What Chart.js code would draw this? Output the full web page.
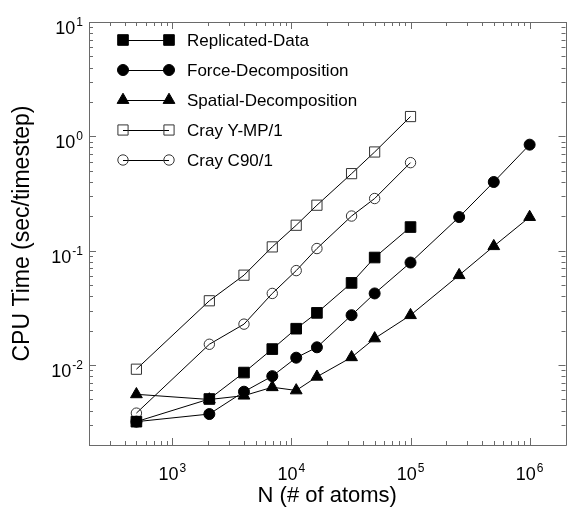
<!DOCTYPE html>
<html><head><meta charset="utf-8">
<script src="https://cdn.jsdelivr.net/npm/chart.js@4/dist/chart.umd.min.js"></script>
<style>html,body{margin:0;padding:0;background:#fff}canvas{display:block}</style>
</head><body>
<canvas id="c" width="574" height="512"></canvas>
<script>
// ---- data ----
const atoms = [500, 2048, 4000, 6912, 10976, 16384, 32000, 50000, 100000, 256000, 500000, 1000000];
const replicatedData = [0.0032, 0.00505, 0.0086, 0.0138, 0.0208, 0.0286, 0.0523, 0.0872, 0.161, null, null, null];
const forceDecomposition = [0.0032, 0.00373, 0.00585, 0.0080, 0.0116, 0.0143, 0.0273, 0.0423, 0.0788, 0.197, 0.399, 0.846];
const spatialDecomposition = [0.00555, 0.0050, 0.0054, 0.0064, 0.0060, 0.0079, 0.0117, 0.0171, 0.0273, 0.0611, 0.1095, 0.197];
const crayYMP = [0.0092, 0.0365, 0.0611, 0.108, 0.167, 0.25, 0.472, 0.73, 1.49, null, null, null];
const crayC90 = [0.0038, 0.0152, 0.0228, 0.0423, 0.067, 0.1045, 0.201, 0.286, 0.589, null, null, null];
const seriesNames = ['Replicated-Data', 'Force-Decomposition', 'Spatial-Decomposition', 'Cray Y-MP/1', 'Cray C90/1'];
const xTickExponents = [3, 4, 5, 6];
const yTickExponents = [-2, -1, 0, 1];
const xTitle = 'N (# of atoms)';
const yTitle = 'CPU Time (sec/timestep)';

const FONT = "'Liberation Sans', Arial, sans-serif";
const FRAME = '#6a6a6a';

function pts(vals) {
  return atoms.map((n, i) => ({x: n, y: vals[i]})).filter(p => p.y !== null);
}
function logTicks(min, max) {
  const out = [];
  for (let e = Math.floor(Math.log10(min)); e <= Math.ceil(Math.log10(max)); e++) {
    for (let m = 1; m <= 9; m++) {
      const v = m * Math.pow(10, e);
      if (v >= min * 0.9999 && v <= max * 1.0001) out.push({value: v});
    }
  }
  return out;
}
function isMajor(v) { const l = Math.log10(v); return Math.abs(l - Math.round(l)) < 1e-9; }

const styles = [
  {pointStyle: 'rect', radius: 7.5, fill: '#000'},
  {pointStyle: 'circle', radius: 5.5, fill: '#000'},
  {pointStyle: 'triangle', radius: 6.8, fill: '#000'},
  {pointStyle: 'rect', radius: 7.2, fill: 'rgba(0,0,0,0)'},
  {pointStyle: 'circle', radius: 5.2, fill: 'rgba(0,0,0,0)'}
];
const seriesValues = [replicatedData, forceDecomposition, spatialDecomposition, crayYMP, crayC90];

const datasets = seriesValues.map((vals, i) => ({
  label: seriesNames[i],
  data: pts(vals),
  borderColor: '#000',
  borderWidth: 1,
  pointStyle: styles[i].pointStyle,
  pointRadius: styles[i].radius,
  pointBackgroundColor: styles[i].fill,
  pointBorderColor: i >= 3 ? '#333' : '#000',
  pointBorderWidth: 1,
  fill: false,
  tension: 0
}));

function drawPow(ctx, e, x, y, align) {
  const base = '10', exp = String(e);
  ctx.font = '18px ' + FONT;
  const wb = ctx.measureText(base).width;
  ctx.font = '12px ' + FONT;
  const we = ctx.measureText(exp).width;
  const total = wb + we + 1;
  let x0 = align === 'center' ? x - total / 2 : x - total;
  ctx.textAlign = 'left';
  ctx.textBaseline = 'alphabetic';
  ctx.fillStyle = '#000';
  ctx.font = '18px ' + FONT;
  ctx.fillText(base, x0, y);
  ctx.font = '12px ' + FONT;
  ctx.fillText(exp, x0 + wb + 1, y - 8);
}

const framePlugin = {
  id: 'frame',
  afterDatasetsDraw(chart) {
    const ctx = chart.ctx, a = chart.chartArea;
    const xs = chart.scales.x, ys = chart.scales.y;
    ctx.save();
    ctx.strokeStyle = FRAME;
    ctx.lineWidth = 1;
    ctx.beginPath();
    ctx.rect(Math.round(a.left) + 0.5, Math.round(a.top) + 0.5, Math.round(a.right - a.left), Math.round(a.bottom - a.top));
    ctx.stroke();
    ctx.beginPath();
    xs.ticks.forEach(t => {
      const px = Math.round(xs.getPixelForValue(t.value)) + 0.5;
      const len = isMajor(t.value) ? 7 : 4;
      ctx.moveTo(px, a.bottom); ctx.lineTo(px, a.bottom - len);
      ctx.moveTo(px, a.top); ctx.lineTo(px, a.top + len);
    });
    ys.ticks.forEach(t => {
      const py = Math.round(ys.getPixelForValue(t.value)) + 0.5;
      const len = isMajor(t.value) ? 7 : 4;
      ctx.moveTo(a.left, py); ctx.lineTo(a.left + len, py);
      ctx.moveTo(a.right, py); ctx.lineTo(a.right - len, py);
    });
    ctx.stroke();
    xTickExponents.forEach(e => drawPow(ctx, e, xs.getPixelForValue(Math.pow(10, e)), a.bottom + 35, 'center'));
    yTickExponents.forEach(e => drawPow(ctx, e, 83, ys.getPixelForValue(Math.pow(10, e)) + 12, 'right'));
    ctx.restore();
  },
  afterDraw(chart) {
    const ctx = chart.ctx;
    ctx.save();
    chart.data.datasets.forEach((ds, i) => {
      const y = 40 + i * 30;
      ctx.strokeStyle = '#000';
      ctx.lineWidth = 1;
      ctx.beginPath();
      ctx.moveTo(123, y + 0.5); ctx.lineTo(169, y + 0.5);
      ctx.stroke();
      [123, 169].forEach(x => {
        ctx.fillStyle = ds.pointBackgroundColor;
        ctx.strokeStyle = ds.pointBorderColor;
        ctx.lineWidth = 1;
        Chart.helpers.drawPoint(ctx, {pointStyle: ds.pointStyle, radius: ds.pointRadius, borderWidth: 1, rotation: 0}, x, y);
      });
      ctx.fillStyle = '#000';
      ctx.font = '17px ' + FONT;
      ctx.textAlign = 'left';
      ctx.textBaseline = 'middle';
      ctx.fillText(ds.label, 187, y + 1);
    });
    ctx.restore();
  }
};

new Chart(document.getElementById('c'), {
  type: 'line',
  data: {datasets},
  options: {
    responsive: false,
    animation: false,
    devicePixelRatio: 1,
    layout: {padding: {left: 0, right: 1, top: 22, bottom: 0}},
    plugins: {legend: {display: false}, tooltip: {enabled: false}},
    scales: {
      x: {
        type: 'logarithmic', position: 'bottom', min: 200, max: 2e6,
        grid: {display: false}, border: {display: false}, ticks: {display: false},
        title: {display: true, text: xTitle, color: '#000', font: {family: FONT, size: 22}, padding: {top: 0, bottom: 3}},
        afterBuildTicks: s => { s.ticks = logTicks(s.min, s.max); },
        afterFit: s => { s.height = 67; }
      },
      y: {
        type: 'logarithmic', position: 'left', min: 0.002, max: 10,
        grid: {display: false}, border: {display: false}, ticks: {display: false},
        title: {display: true, text: yTitle, color: '#000', font: {family: FONT, size: 23}, padding: {top: 9, bottom: 0}},
        afterBuildTicks: s => { s.ticks = logTicks(s.min, s.max); },
        afterFit: s => { s.width = 89; }
      }
    }
  },
  plugins: [framePlugin]
});
</script>
</body></html>
